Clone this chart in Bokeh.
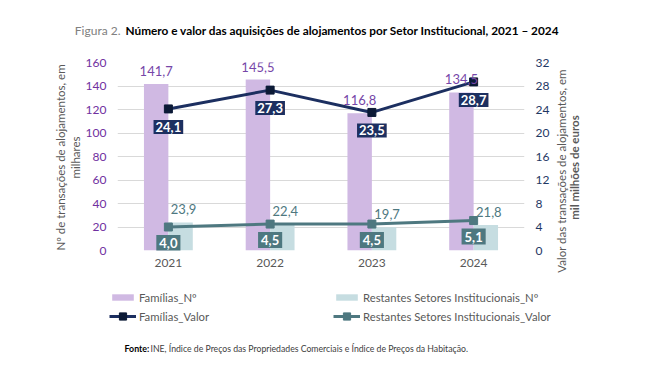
from math import pi
from bokeh.plotting import figure
from bokeh.layouts import column, row
from bokeh.models import (FactorRange, Range1d, LinearAxis, FixedTicker, Label,
                          Legend, LegendItem, ColumnDataSource)
from bokeh.transform import dodge
from bokeh.core.properties import value
from bokeh.embed import file_html
from bokeh.resources import INLINE

years = ["2021", "2022", "2023", "2024"]
familias_n = [141.7, 145.5, 116.8, 134.5]
restantes_n = [23.9, 22.4, 19.7, 21.8]
familias_valor = [24.1, 27.3, 23.5, 28.7]
restantes_valor = [4.0, 4.5, 4.5, 5.1]
left_ticks = [0, 20, 40, 60, 80, 100, 120, 140, 160]
right_ticks = [0, 4, 8, 12, 16, 20, 24, 28, 32]


def fmt(v):
    return f"{v:.1f}".replace(".", ",")


src = ColumnDataSource(dict(
    year=years, fn=familias_n, rn=restantes_n, fv=familias_valor, rv=restantes_valor,
    fn_l=[fmt(v) for v in familias_n], rn_l=[fmt(v) for v in restantes_n],
    fv_l=[fmt(v) for v in familias_valor], rv_l=[fmt(v) for v in restantes_valor],
))

FONT = "Lato"
PURPLE_BAR = "#D0B9E3"
LIGHT_BAR = "#C6DDE1"
NAVY = "#1C2F60"
NAVY_MK = "#0C1A36"
TEAL = "#4E7880"
W = 640
LEFT_W = 82
MAIN_W = 553 - LEFT_W
MAIN_H = 234
TOP_H = 46


def strip(width, height, flip=True):
    f = figure(width=width, height=height, x_range=Range1d(0, width),
               y_range=Range1d(height, 0) if flip else Range1d(0, height),
               x_axis_type=None, y_axis_type=None, output_backend="svg",
               toolbar_location=None, min_border=0)
    f.frame_align = False
    f.outline_line_color = None
    f.xgrid.grid_line_color = None
    f.ygrid.grid_line_color = None
    return f


# ---------------- title strip ----------------
top = strip(W, TOP_H)
top.add_layout(Label(x=120, y=30, text="Figura 2.", text_font=FONT, text_font_size="12px",
                     text_color="#808080", text_align="right", text_baseline="middle"))
top.add_layout(Label(x=125, y=30,
                     text="Número e valor das aquisições de alojamentos por Setor Institucional, 2021 – 2024",
                     text_font=FONT, text_font_size="11.8px", text_font_style="bold",
                     text_color="#000000", text_align="left", text_baseline="middle"))

# ---------------- main chart ----------------
p = figure(width=MAIN_W, height=MAIN_H, x_range=FactorRange(factors=years),
           y_range=Range1d(0, 160), output_backend="svg", toolbar_location=None,
           min_border_left=116 - LEFT_W, min_border_right=MAIN_W - (116 - LEFT_W) - 408,
           min_border_top=16, min_border_bottom=30)
p.frame_align = False
p.extra_y_ranges = {"right": Range1d(0, 32)}
p.outline_line_color = None


def style_axis(ax, color):
    ax.axis_line_color = None
    ax.major_tick_line_color = None
    ax.minor_tick_line_color = None
    ax.major_tick_out = 0
    ax.major_tick_in = 0
    ax.minor_tick_out = 0
    ax.major_label_text_color = color
    ax.major_label_text_font = FONT
    ax.major_label_text_font_size = "12px"


p.yaxis.ticker = FixedTicker(ticks=left_ticks)
style_axis(p.yaxis[0], "#7030A0")
p.yaxis.major_label_standoff = 11

ra = LinearAxis(y_range_name="right", ticker=FixedTicker(ticks=right_ticks))
style_axis(ra, "#1F3864")
ra.major_label_standoff = 11
p.add_layout(ra, "right")

style_axis(p.xaxis[0], "#595959")
p.xaxis.major_label_standoff = 8

p.xgrid.grid_line_color = None
p.ygrid.grid_line_color = "#D9D9D9"
p.ygrid.grid_line_width = 1

# bars
p.vbar(x=dodge("year", -0.12, range=p.x_range), top="fn", width=0.24,
       source=src, fill_color=PURPLE_BAR, line_color=None)
p.vbar(x=dodge("year", 0.12, range=p.x_range), top="rn", width=0.24,
       source=src, fill_color=LIGHT_BAR, line_color=None)

# lines
p.line(x="year", y="fv", source=src, y_range_name="right", line_color=NAVY, line_width=3)
p.scatter(x="year", y="fv", source=src, y_range_name="right", marker="square",
          size=8, fill_color=NAVY_MK, line_color=NAVY_MK)
p.line(x="year", y="rv", source=src, y_range_name="right", line_color=TEAL, line_width=3)
p.scatter(x="year", y="rv", source=src, y_range_name="right", marker="square",
          size=8, fill_color=TEAL, line_color=TEAL)

# data labels
p.text(x=dodge("year", -0.12, range=p.x_range), y="fn", text="fn_l", source=src,
       y_offset=-13, text_align="center", text_baseline="middle",
       text_font=value(FONT), text_font_size="13px", text_color="#7646A8")
p.text(x=dodge("year", 0.12, range=p.x_range), y="rn", text="rn_l", source=src,
       x_offset=3, y_offset=-13, text_align="center", text_baseline="middle",
       text_font=value(FONT), text_font_size="13px", text_color=TEAL)
p.text(x="year", y="fv", text="fv_l", source=src, y_range_name="right",
       y_offset=18, text_align="center", text_baseline="middle",
       text_font=value(FONT), text_font_size="13px", text_font_style="bold",
       text_color="white", background_fill_color=NAVY, padding=2)
p.text(x="year", y="rv", text="rv_l", source=src, y_range_name="right",
       y_offset=16, text_align="center", text_baseline="middle",
       text_font=value(FONT), text_font_size="13px", text_font_style="bold",
       text_color="white", background_fill_color=TEAL, padding=3)

# ---------------- left axis title strip ----------------
ls = strip(LEFT_W, MAIN_H)
ls.add_layout(Label(x=60, y=157 - TOP_H, text="Nº de transações de alojamentos, em",
                    angle=pi / 2, text_align="center", text_baseline="middle",
                    text_font=FONT, text_font_size="11.5px", text_color="#595959"))
ls.add_layout(Label(x=74.5, y=157 - TOP_H, text="milhares",
                    angle=pi / 2, text_align="center", text_baseline="middle",
                    text_font=FONT, text_font_size="11.5px", text_color="#595959"))

# ---------------- right axis title strip ----------------
R0 = LEFT_W + MAIN_W
rs = strip(W - R0, MAIN_H)
rs.add_layout(Label(x=561 - R0, y=169 - TOP_H, text="Valor das  transações de alojamentos, em",
                    angle=pi / 2, text_align="center", text_baseline="middle",
                    text_font=FONT, text_font_size="11.5px", text_color="#595959"))
rs.add_layout(Label(x=574 - R0, y=167 - TOP_H, text="mil milhões de euros",
                    angle=pi / 2, text_align="center", text_baseline="middle",
                    text_font=FONT, text_font_size="11.5px", text_font_style="bold",
                    text_color="#595959"))

# ---------------- legend + source strip ----------------
BOT_H = 90
bot = strip(W, BOT_H, flip=False)

# legend proxies (hidden; only their styles are shown in the legend)
lb1 = bot.vbar(x=[0], top=[0], width=1, fill_color=PURPLE_BAR, line_color=None, visible=False)
lb2 = bot.vbar(x=[0], top=[0], width=1, fill_color=LIGHT_BAR, line_color=None, visible=False)
ll1 = bot.line(x=[0], y=[0], line_color=NAVY, line_width=3, visible=False)
ls1 = bot.scatter(x=[0], y=[0], marker="square", fill_color=NAVY_MK, line_color=NAVY_MK,
                  visible=False)
ll2 = bot.line(x=[0], y=[0], line_color=TEAL, line_width=3, visible=False)
ls2 = bot.scatter(x=[0], y=[0], marker="square", fill_color=TEAL, line_color=TEAL,
                  visible=False)


def add_legend(label, renderers, x, y, gh):
    lg = Legend(items=[LegendItem(label=label, renderers=renderers)], location=(x, y))
    lg.click_policy = "none"
    lg.padding = 0
    lg.margin = 0
    lg.border_line_color = None
    lg.background_fill_alpha = 0
    lg.glyph_width = 27
    lg.glyph_height = gh
    lg.label_standoff = 3
    lg.spacing = 0
    lg.label_height = 15
    lg.label_text_font = FONT
    lg.label_text_font_size = "11.3px"
    lg.label_text_color = "#595959"
    bot.add_layout(lg, "center")


row1_c = BOT_H - 17
row2_c = BOT_H - 36
add_legend("Famílias_Nº", [lb1], 109, row1_c - 7.5, 8)
add_legend("Restantes Setores Institucionais_Nº", [lb2], 333, row1_c - 7.5, 8)
add_legend("Famílias_Valor", [ll1, ls1], 109, row2_c - 9, 18)
add_legend("Restantes Setores Institucionais_Valor", [ll2, ls2], 333, row2_c - 9, 18)

bot.add_layout(Label(x=124, y=22, text="Fonte:", text_font=FONT, text_font_size="8.8px",
                     text_font_style="bold", text_color="#000000", text_baseline="middle"))
bot.add_layout(Label(x=150, y=22,
                     text="INE, Índice de Preços das Propriedades Comerciais e Índice de Preços da Habitação.",
                     text_font=FONT, text_font_size="8.7px", text_color="#404040",
                     text_baseline="middle"))

layout = column(top, row(ls, p, rs, spacing=0), bot, spacing=0)
open("out.html", "w").write(file_html(layout, INLINE))
